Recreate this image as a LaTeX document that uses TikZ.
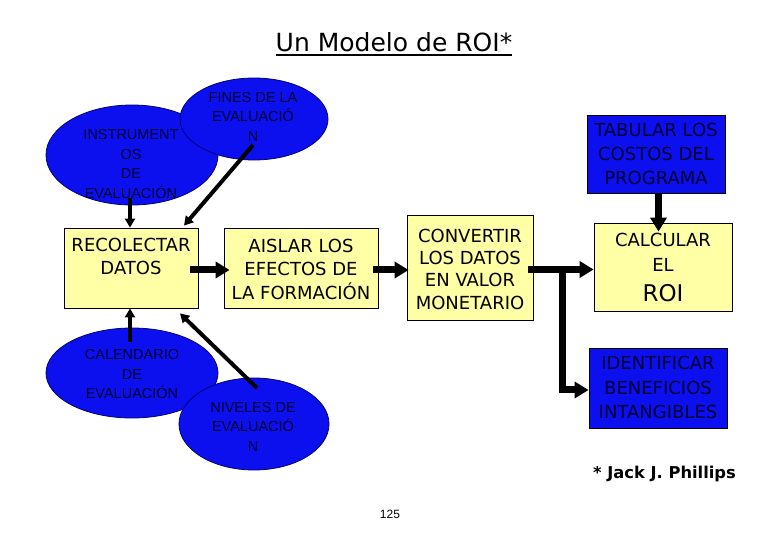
\documentclass[tikz,border=0pt]{standalone}
\usepackage{fontspec}
\setmainfont{DejaVu Sans}
\newfontfamily\ellfont{Liberation Sans}
\usetikzlibrary{arrows.meta,calc,shapes.geometric}
\definecolor{ellblue}{RGB}{12,16,238}
\definecolor{ellline}{RGB}{0,0,120}
\definecolor{navytext}{RGB}{0,0,50}
\definecolor{boxyellow}{RGB}{255,255,165}
\newcommand\boxtxt[4]{\parbox[c][#2][t]{#1}{\centering\vspace*{#3}#4}}
\begin{document}
\begin{tikzpicture}[x=1pt,y=-1pt,
  ell/.style={ellipse, draw=ellline, line width=0.8pt, fill=ellblue, inner sep=0pt},
  etext/.style={font=\ellfont\fontsize{14.5}{19.5}\selectfont, align=center, text=navytext, inner sep=0pt},
  ybox/.style={draw=black, line width=0.8pt, fill=boxyellow, inner sep=0pt},
  bbox/.style={draw=black, line width=0.8pt, fill=ellblue, inner sep=0pt, text=navytext},
  arr/.style={line width=7pt, -{Triangle[length=14pt,width=16pt]}},
  arrS/.style={line width=4pt, -{Triangle[length=9pt,width=10pt]}}]
\useasboundingbox[fill=white] (0,0) rectangle (780,540);

% title
\node[font=\fontsize{25}{28}\selectfont, anchor=base, inner sep=0pt] (title) at (394,52) {Un Modelo de ROI*};
\draw[line width=2pt] ($(title.base west)+(0,3)$) -- ($(title.base east)+(0,3)$);

% ellipses
\node[ell, minimum width=172pt, minimum height=100pt] (inst) at (132,155) {};
\node[ell, minimum width=148pt, minimum height=82pt] (fines) at (254,119) {};
\node[ell, minimum width=172pt, minimum height=90pt] (cal) at (132,373) {};
\node[ell, minimum width=150pt, minimum height=92pt] (niv) at (254,424) {};
\node[etext] (instT) at (131,164.25) {INSTRUMENT\\OS\\DE\\EVALUACIÓN};
\node[etext] (finesT) at (253,116.5) {FINES DE LA\\EVALUACIÓ\\N};
\node[etext] (calT) at (132,374.5) {CALENDARIO\\DE\\EVALUACIÓN};
\node[etext] (nivT) at (253,426.5) {NIVELES DE\\EVALUACIÓ\\N};

% yellow boxes
\node[ybox, font=\fontsize{18}{23}\selectfont] (rec) at (131,268)
  {\boxtxt{134pt}{80pt}{10.4pt}{RECOLECTAR\\DATOS}};
\node[ybox, font=\fontsize{18}{23.5}\selectfont] (ais) at (301,268)
  {\boxtxt{154pt}{80pt}{10.9pt}{AISLAR LOS\\EFECTOS DE\\LA FORMACIÓN}};
\node[ybox, font=\fontsize{18}{22.3}\selectfont] (conv) at (470,267.5)
  {\boxtxt{126pt}{105pt}{13.9pt}{CONVERTIR\\LOS DATOS\\EN VALOR\\MONETARIO}};
\node[ybox, font=\fontsize{18}{25}\selectfont] (calc) at (663,267)
  {\boxtxt{138pt}{88pt}{10.4pt}{CALCULAR\\EL\\[5pt]{\fontsize{23}{25}\selectfont ROI}}};

% blue boxes
\node[bbox, font=\fontsize{18}{24}\selectfont] (tab) at (656,154)
  {\boxtxt{138pt}{78pt}{8.4pt}{TABULAR LOS\\COSTOS DEL\\PROGRAMA}};
\node[bbox, font=\fontsize{18}{24.5}\selectfont] (ident) at (658,388)
  {\boxtxt{138pt}{80pt}{8.4pt}{IDENTIFICAR\\BENEFICIOS\\INTANGIBLES}};

% connectors
\draw[arrS] ($(inst.center)+(-2,43)$) -- ($(rec.north)+(-1,0)$);
\draw[arrS] ($(fines.center)+(-1,26)$) -- ($(rec.north)+(53,-2)$);
\draw[arrS] ($(cal.center)+(-2,-31)$) -- ($(rec.south)+(-1,0)$);
\draw[arrS] ($(niv.center)+(3,-36)$) -- ($(rec.south)+(49,5)$);
\draw[arr] ($(rec.east)+(-8,2)$) -- ($(ais.west)+(6,2)$);
\draw[arr] ($(ais.east)+(-5,2)$) -- ($(conv.west)+(2,2.5)$);
\draw[arr] ($(conv.east)+(-5,2)$) -- ($(calc.west)+(0,2.5)$);
\draw[arr] ($(conv.east)+(29,2)$) |- ($(ident.west)+(0,2)$);
\draw[arr] ($(tab.south)+(2.5,0)$) -- ($(calc.north)+(-4.5,9)$);

% footer
\node[font=\bfseries\fontsize{16.3}{19}\selectfont, anchor=base, inner sep=0pt] (author) at (664.5,478) {* Jack J. Phillips};
\node[font=\ellfont\fontsize{12}{14}\selectfont, anchor=base, inner sep=0pt] (page) at (390,518) {125};
\end{tikzpicture}
\end{document}
